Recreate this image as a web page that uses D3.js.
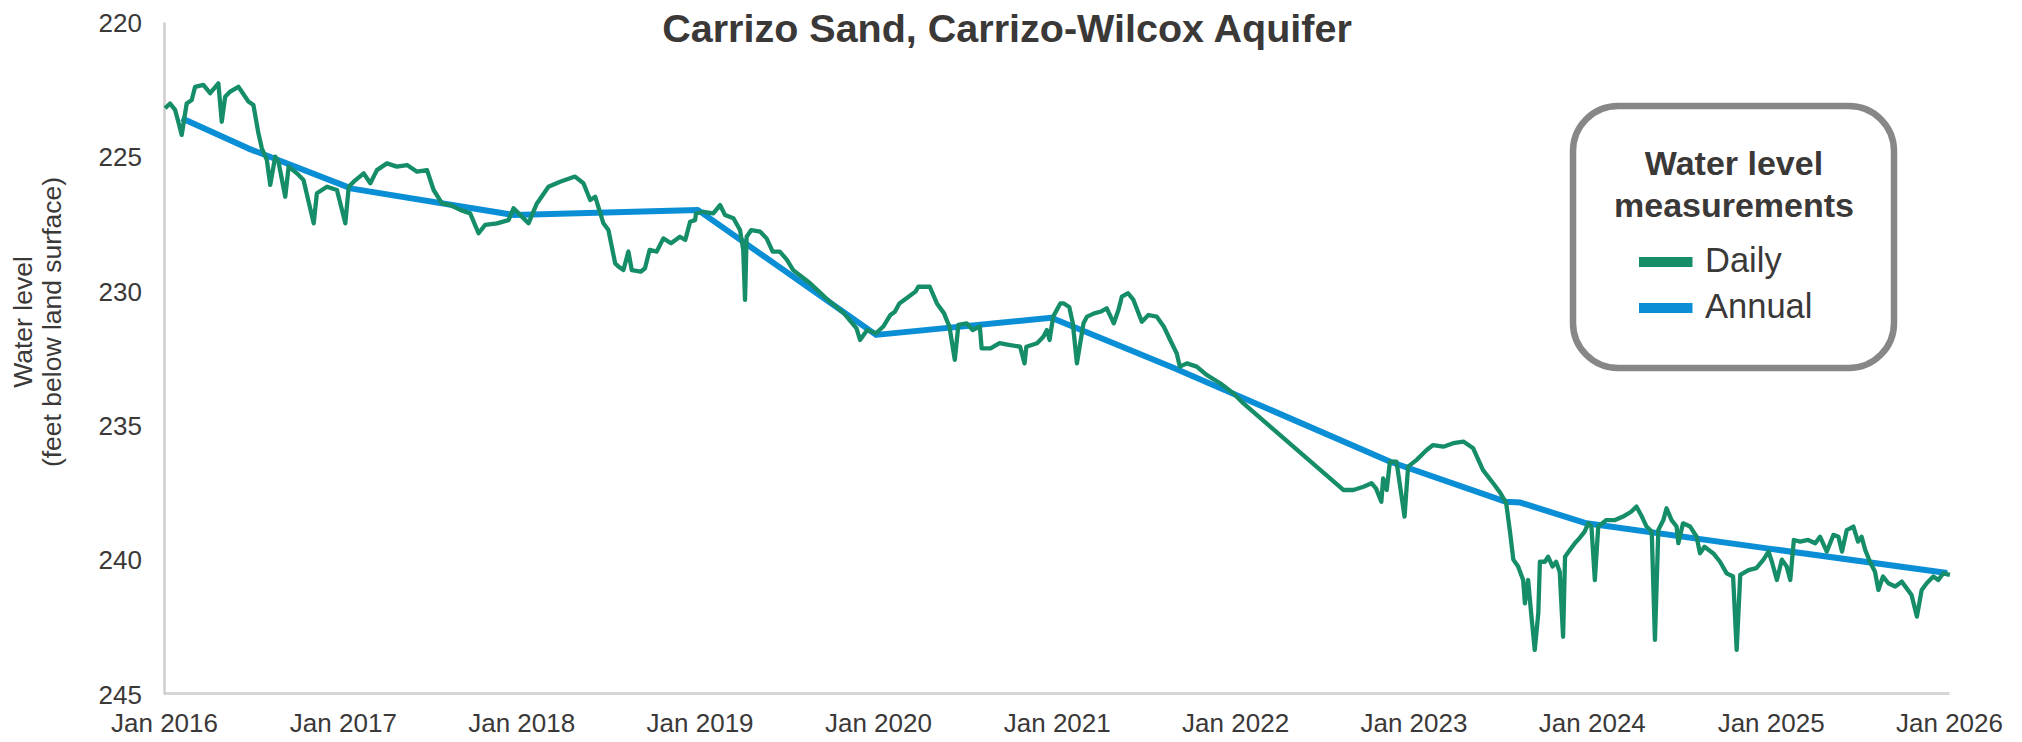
<!DOCTYPE html>
<html><head><meta charset="utf-8">
<script src="https://cdn.jsdelivr.net/npm/d3@7"></script>
<style>
html,body{margin:0;padding:0;background:#fff;}
svg{display:block;font-family:"Liberation Sans",Arial,Helvetica,sans-serif;}
</style></head><body>
<svg id="chart" width="2022" height="742"></svg>
<script>
// ---------- data ----------
const titleText = "Carrizo Sand, Carrizo-Wilcox Aquifer";
const yAxisTitle = ["Water level", "(feet below land surface)"];
const legendTitle = ["Water level", "measurements"];
const seriesNames = ["Daily", "Annual"];
const yTicks = [220, 225, 230, 235, 240, 245];
const xTickYears = [2016, 2017, 2018, 2019, 2020, 2021, 2022, 2023, 2024, 2025, 2026];

// Daily record: time as decimal year, level in feet below land surface
const dailyYear = [
2016.006,2016.034,2016.062,2016.08,2016.099,2016.127,2016.155,2016.174,2016.22,2016.258,2016.304,2016.323,2016.342,2016.37,2016.416,2016.454,2016.472,2016.5,2016.528,2016.547,2016.575,2016.594,2016.622,2016.64,2016.678,2016.697,2016.743,2016.78,2016.837,2016.855,2016.911,2016.967,2017.014,2017.033,2017.061,2017.117,2017.154,2017.191,2017.247,2017.303,2017.36,2017.416,2017.472,2017.509,2017.556,2017.602,2017.658,2017.714,2017.761,2017.798,2017.864,2017.929,2017.957,2018.004,2018.041,2018.088,2018.153,2018.218,2018.302,2018.349,2018.387,2018.415,2018.461,2018.489,
2018.527,2018.545,2018.573,2018.601,2018.62,2018.67,2018.694,2018.72,2018.76,2018.797,2018.84,2018.89,2018.92,2018.947,2018.975,2018.98,2019.02,2019.077,2019.115,2019.143,2019.19,2019.227,2019.245,2019.255,2019.264,2019.29,2019.34,2019.376,2019.41,2019.45,2019.49,2019.525,2019.56,2019.62,2019.71,2019.81,2019.88,2019.9,2019.94,2019.99,2020.03,2020.07,2020.095,2020.12,2020.16,2020.21,2020.226,2020.29,2020.33,2020.37,2020.385,2020.4,2020.43,2020.45,2020.497,2020.53,2020.57,2020.58,2020.63,2020.68,2020.74,2020.795,2020.82,2020.83,2020.89,2020.925,2020.945,2020.96,2020.98,2021.02,2021.04,
2021.07,2021.09,2021.113,2021.15,2021.17,2021.21,2021.244,2021.28,2021.32,2021.346,2021.365,2021.4,2021.43,2021.477,2021.514,2021.56,2021.6,2021.636,2021.673,2021.69,2021.73,2021.785,2021.84,2021.916,2021.99,2022.047,2022.607,2022.663,2022.72,2022.765,2022.79,2022.82,2022.83,2022.85,2022.868,2022.905,2022.95,2022.97,2023.018,2023.074,2023.11,2023.167,2023.223,2023.28,2023.335,2023.39,2023.447,2023.485,
2023.52,2023.54,2023.56,2023.587,2023.615,2023.625,2023.643,2023.66,2023.68,2023.7,2023.709,2023.737,2023.755,2023.78,2023.8,2023.82,2023.839,2023.85,2023.877,2023.905,2023.93,2023.96,2023.98,2023.998,2024.017,2024.036,2024.08,2024.13,2024.175,2024.22,2024.25,2024.28,2024.306,2024.335,2024.353,2024.372,2024.4,2024.418,2024.446,2024.474,2024.484,2024.51,2024.55,2024.586,2024.605,2024.63,2024.68,2024.717,2024.754,2024.79,2024.81,2024.83,2024.876,2024.92,2024.96,2024.988,2025.007,2025.035,2025.063,2025.09,2025.11,2025.13,2025.166,2025.21,2025.25,2025.277,2025.315,2025.352,2025.38,2025.4,2025.427,2025.464,2025.49,2025.51,2025.53,2025.557,2025.585,2025.604,2025.63,2025.66,2025.698,2025.735,2025.763,2025.79,2025.82,2025.847,2025.875,2025.912,2025.94,2025.968,2026.005
];
const dailyLevel = [
223.21,223.03,223.27,223.71,224.2,223.03,222.9,222.41,222.34,222.65,222.28,223.71,222.78,222.59,222.41,222.78,222.96,223.09,224.14,224.7,225.13,226.06,225.01,225.2,226.5,225.38,225.63,225.88,227.49,226.37,226.13,226.25,227.49,226.13,225.94,225.63,226.0,225.51,225.26,225.38,225.32,225.57,225.51,226.25,226.75,226.81,226.99,227.12,227.86,227.55,227.49,227.37,226.93,227.24,227.49,226.75,226.13,225.94,225.75,226.0,226.62,226.5,227.49,227.74,
228.98,229.1,229.23,228.54,229.23,229.29,229.16,228.48,228.54,228.05,228.23,227.99,228.11,227.43,227.37,227.12,227.06,227.12,226.81,227.18,227.3,227.74,228.48,230.34,227.99,227.74,227.8,228.05,228.54,228.54,228.85,229.23,229.41,229.72,230.28,230.84,231.4,231.83,231.46,231.58,231.33,230.9,230.78,230.47,230.28,230.03,229.85,229.85,230.47,230.84,231.09,231.33,232.57,231.27,231.21,231.46,231.33,232.14,232.14,231.95,232.02,232.08,232.7,232.08,231.95,231.71,231.46,231.83,230.96,230.47,230.47,
230.6,231.2,232.7,231.21,230.96,230.84,230.78,230.65,231.21,230.71,230.22,230.09,230.34,231.15,230.9,230.96,231.33,231.83,232.33,232.82,232.7,232.82,233.13,233.44,233.81,234.19,237.41,237.41,237.29,237.16,237.35,237.85,236.98,237.41,236.36,236.36,238.4,236.54,236.29,235.92,235.74,235.8,235.67,235.61,235.86,236.67,237.16,237.5,
237.9,238.9,240.0,240.26,240.76,241.63,240.76,242.0,243.36,242.0,240.08,240.08,239.89,240.26,240.08,240.45,242.87,239.89,239.64,239.39,239.21,238.96,238.65,238.77,240.76,238.77,238.53,238.53,238.4,238.22,238.03,238.4,238.77,238.96,242.99,238.9,238.53,238.09,238.53,238.77,239.39,238.65,238.77,239.15,239.77,239.52,239.77,240.08,240.51,240.63,243.36,240.57,240.39,240.32,240.0,239.7,240.08,240.76,240.0,240.26,240.76,239.27,239.33,239.27,239.39,239.15,239.7,239.08,239.15,239.7,238.9,238.77,239.33,239.15,239.64,240.08,240.45,241.13,240.63,240.88,241.0,240.82,241.07,241.32,242.12,241.13,240.88,240.63,240.76,240.51,240.57
];

// Annual measurements
const annualYear  = [2016.099, 2016.47, 2017.05, 2017.96, 2018.99, 2019.99, 2020.97, 2021.66, 2022.87, 2023.52, 2023.60, 2023.97, 2025.0, 2025.99];
const annualLevel = [223.58,   224.70,  226.20,  227.18,  226.99,  231.64,  231.00,  232.88,  236.36,  237.85,  237.88,  238.65,  239.60, 240.50];

// ---------- helpers ----------
function yearToDate(y) {
  const Y = Math.floor(y);
  const s = new Date(Y, 0, 1), e = new Date(Y + 1, 0, 1);
  return new Date(+s + (y - Y) * (e - s));
}
const daily = dailyYear.map((t, i) => ({date: yearToDate(t), v: dailyLevel[i]}));
const annual = annualYear.map((t, i) => ({date: yearToDate(t), v: annualLevel[i]}));

const textColor = "#3b3838";
const dailyColor = "#168d69";
const annualColor = "#0a8fd6";

const svg = d3.select("#chart");
svg.append("rect").attr("width", 2022).attr("height", 742).attr("fill", "#fff");

const x = d3.scaleTime()
  .domain([new Date(2016, 0, 1), new Date(2026, 0, 1)])
  .range([164, 1949]);
const y = d3.scaleLinear().domain([220, 245]).range([22, 694]);

// x axis
const gx = svg.append("g").attr("transform", "translate(0,693)")
  .call(d3.axisBottom(x)
    .tickValues(xTickYears.map(v => new Date(v, 0, 1)))
    .tickFormat(d3.timeFormat("%b %Y"))
    .tickSize(0).tickSizeOuter(0));
gx.select(".domain").attr("stroke", "#d6d6d6").attr("stroke-width", 3);
gx.selectAll("text").attr("y", 39).attr("dy", null)
  .attr("fill", textColor).style("font-size", "26px")
  .style("font-family", '"Liberation Sans",Arial,sans-serif');

// y axis
const gy = svg.append("g").attr("transform", "translate(164,0)")
  .call(d3.axisLeft(y).tickValues(yTicks).tickFormat(d3.format("d"))
    .tickSize(0).tickSizeOuter(0).tickPadding(22));
gy.select(".domain").attr("stroke", "#d0cccc").attr("stroke-width", 2.5);
gy.selectAll("text").attr("dy", "0.36em")
  .attr("fill", textColor).style("font-size", "26px")
  .style("font-family", '"Liberation Sans",Arial,sans-serif');

// axis title
svg.append("text").attr("transform", "translate(32,322) rotate(-90)")
  .attr("text-anchor", "middle").attr("fill", textColor)
  .style("font-size", "26.5px").text(yAxisTitle[0]);
svg.append("text").attr("transform", "translate(61,322) rotate(-90)")
  .attr("text-anchor", "middle").attr("fill", textColor)
  .style("font-size", "26.5px").text(yAxisTitle[1]);

// title
svg.append("text").attr("x", 1007).attr("y", 42)
  .attr("text-anchor", "middle").attr("fill", textColor)
  .style("font-size", "39.5px").style("font-weight", "bold").text(titleText);

// lines
const line = d3.line().x(d => x(d.date)).y(d => y(d.v));
svg.append("path").datum(annual).attr("d", line)
  .attr("fill", "none").attr("stroke", annualColor)
  .attr("stroke-width", 6).attr("stroke-linejoin", "round");
svg.append("path").datum(daily).attr("d", line)
  .attr("fill", "none").attr("stroke", dailyColor)
  .attr("stroke-width", 4.3).attr("stroke-linejoin", "round");

// legend
const lg = svg.append("g");
lg.append("rect").attr("x", 1573).attr("y", 106).attr("width", 321).attr("height", 262)
  .attr("rx", 45).attr("ry", 45)
  .attr("fill", "#fff").attr("stroke", "#878787").attr("stroke-width", 6.5);
legendTitle.forEach((t, i) => {
  lg.append("text").attr("x", 1734).attr("y", 175 + i * 42)
    .attr("text-anchor", "middle").attr("fill", textColor)
    .style("font-size", "34px").style("font-weight", "bold").text(t);
});
const legendColors = [dailyColor, annualColor];
seriesNames.forEach((n, i) => {
  const cy = 262 + i * 46;
  lg.append("line").attr("x1", 1639).attr("x2", 1692.5).attr("y1", cy).attr("y2", cy)
    .attr("stroke", legendColors[i]).attr("stroke-width", 10);
  lg.append("text").attr("x", 1705).attr("y", cy + 10)
    .attr("fill", textColor).style("font-size", "34.5px").text(n);
});
</script>
</body></html>
